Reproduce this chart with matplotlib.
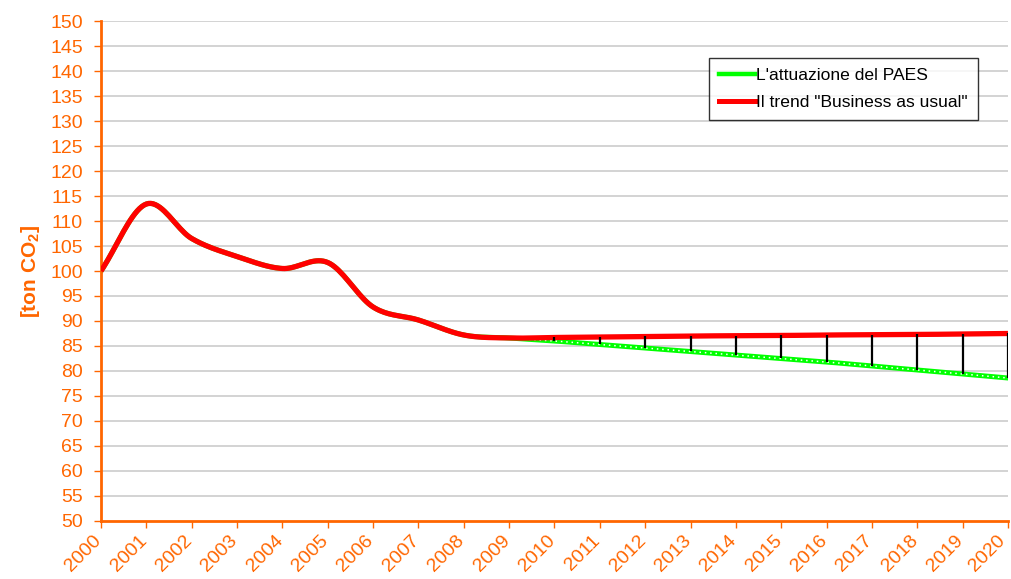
import numpy as np
import matplotlib.pyplot as plt
from matplotlib.transforms import ScaledTranslation

plt.rcParams['font.family'] = ['Liberation Sans', 'DejaVu Sans']
plt.rcParams['mathtext.fontset'] = 'custom'
plt.rcParams['mathtext.rm'] = 'Liberation Sans'
plt.rcParams['mathtext.bf'] = 'Liberation Sans:bold'

ORANGE = '#FF6600'

years = list(range(2000, 2021))
bau = [100.0, 113.4, 106.5, 102.9, 100.5, 101.7, 92.8, 90.2, 87.2, 86.6,
       86.7, 86.8, 86.9, 87.0, 87.05, 87.1, 87.2, 87.25, 87.3, 87.4, 87.5]
paes = [100.0, 113.4, 106.5, 102.9, 100.5, 101.7, 92.8, 90.2, 87.2, 86.6,
        86.0, 85.3, 84.6, 83.9, 83.2, 82.5, 81.8, 81.0, 80.2, 79.4, 78.6]
gap_years = years[10:]
label_paes = "L'attuazione del PAES"
label_bau = 'Il trend "Business as usual"'


def smooth(x, y, n=20):
    # catmull-rom like the excel "smoothed line"
    x = np.asarray(x, float)
    y = np.asarray(y, float)
    px = np.concatenate([[2 * x[0] - x[1]], x, [2 * x[-1] - x[-2]]])
    py = np.concatenate([[2 * y[0] - y[1]], y, [2 * y[-1] - y[-2]]])
    xs, ys = [], []
    t = np.linspace(0, 1, n, endpoint=False)
    for i in range(1, len(px) - 2):
        p0, p1, p2, p3 = py[i - 1], py[i], py[i + 1], py[i + 2]
        ys.append(0.5 * (2 * p1 + (-p0 + p2) * t + (2 * p0 - 5 * p1 + 4 * p2 - p3) * t ** 2
                         + (-p0 + 3 * p1 - 3 * p2 + p3) * t ** 3))
        xs.append(px[i] + (px[i + 1] - px[i]) * t)
    xs.append([x[-1]])
    ys.append([y[-1]])
    return np.concatenate(xs), np.concatenate(ys)


fig = plt.figure(figsize=(10.11, 5.79), dpi=100)
ax = fig.add_axes([0.0999, 0.1002, 0.8971, 0.8635])

for v in range(55, 151, 5):
    ax.axhline(v, color='#CCCCCC', lw=1.2, zorder=0)

sx, sy = smooth(years, paes)
ax.plot(sx, sy, color='#00FF00', lw=3.6, zorder=2)
ax.plot(sx, sy, color='white', lw=1.1, ls=(0, (1, 2.5)), zorder=2)
bx, by = smooth(years, bau)
ax.plot(bx, by, color='#FF0000', lw=3.8, zorder=3, solid_capstyle='butt')

lo = paes[10:]
hi = bau[10:]
ax.vlines(gap_years, lo, hi, color='black', lw=1.6, zorder=4)

# legend handles
ax.plot([], [], color='#00FF00', lw=3.2, label=label_paes)
ax.plot([], [], color='#FF0000', lw=3.6, label=label_bau)
h, l = ax.get_legend_handles_labels()
leg = ax.legend(h[-2:], l[-2:], loc='upper right', bbox_to_anchor=(0.9665, 0.926),
                fontsize=12.6, frameon=True, fancybox=False, handlelength=2.1,
                handletextpad=0.05, borderpad=0.55, labelspacing=0.7, edgecolor='black',
                borderaxespad=0)
leg.get_frame().set_linewidth(1.0)

ax.set_xlim(2000, 2020)
ax.set_ylim(50, 150)
ax.set_yticks(range(50, 151, 5))
ax.set_xticks(years)
ax.tick_params(axis='y', colors=ORANGE, labelsize=14, length=5, width=1, pad=8)
ax.tick_params(axis='x', colors=ORANGE, length=5, width=1, pad=7)
ax.set_xticklabels([str(y) for y in years], rotation=45, ha='right', va='center',
                   rotation_mode='anchor', color=ORANGE, fontsize=14)
labs = ax.get_xticklabels()
for i, lab in enumerate(labs):
    dx = -1.5 if i < len(labs) - 1 else -4
    lab.set_transform(lab.get_transform() + ScaledTranslation(dx / 72, 0, fig.dpi_scale_trans))
for s in ['top', 'right']:
    ax.spines[s].set_visible(False)
for s in ['left', 'bottom']:
    ax.spines[s].set_color(ORANGE)
    ax.spines[s].set_linewidth(2)

ax.set_ylabel(r'[ton CO$_\mathbf{2}$]', color=ORANGE, fontsize=15, fontweight='bold', labelpad=6)

fig.savefig('out.png', dpi=100)
